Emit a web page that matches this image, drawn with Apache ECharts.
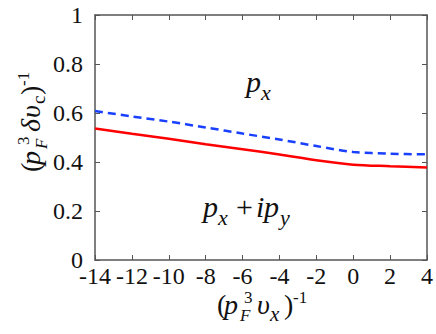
<!DOCTYPE html>
<html>
<head>
<meta charset="utf-8">
<script src="https://cdn.jsdelivr.net/npm/echarts@6/dist/echarts.min.js"></script>
<style>
  html, body { margin: 0; padding: 0; background: #fff; }
  #chart { width: 436px; height: 334px; }
</style>
</head>
<body>
<div id="chart"></div>
<script>
const xVals = [-14, -12, -10, -8, -6, -4, -2, 0, 2, 4];
const pxPy = [0.537, 0.515, 0.495, 0.472, 0.452, 0.431, 0.407, 0.389, 0.383, 0.378];
const px = [0.608, 0.586, 0.565, 0.541, 0.516, 0.492, 0.465, 0.441, 0.434, 0.431];
const yTicks = [0, 0.2, 0.4, 0.6, 0.8, 1];

const serif = 'Liberation Serif';
const axisColor = '#555';

function txt(t, x, y, size, italic) {
  return {
    type: 'text', x: x, y: y,
    style: {
      text: t, fill: '#111',
      fontFamily: serif, fontSize: size, fontStyle: italic ? 'italic' : 'normal',
      verticalAlign: 'bottom', align: 'left'
    }
  };
}

const hiddenAxis = {
  axisLine: { show: true, onZero: false, lineStyle: { color: axisColor, width: 1.5 } },
  axisTick: { show: true, inside: true, length: 5, lineStyle: { color: axisColor } },
  axisLabel: { show: false },
  splitLine: { show: false }
};

const option = {
  animation: false,
  textStyle: { fontFamily: serif },
  grid: { left: 95, right: 5, top: 15, bottom: 74 },
  xAxis: [{
    type: 'value', min: -14, max: 4, interval: 2,
    axisLine: { onZero: false, lineStyle: { color: axisColor, width: 1.5 } },
    axisTick: { inside: true, length: 5, lineStyle: { color: axisColor } },
    axisLabel: { color: '#111', fontFamily: serif, fontSize: 24, margin: 4 },
    splitLine: { show: false }
  }, Object.assign({ type: 'value', min: -14, max: 4, interval: 2, position: 'top' }, hiddenAxis)],
  yAxis: [{
    type: 'value', min: 0, max: 1, interval: 0.2,
    axisLine: { show: true, onZero: false, lineStyle: { color: axisColor, width: 1.5 } },
    axisTick: { show: true, inside: true, length: 5, lineStyle: { color: axisColor } },
    axisLabel: {
      color: '#111', fontFamily: serif, fontSize: 24, margin: 12,
      formatter: v => yTicks.includes(Math.round(v * 10) / 10) ? String(Math.round(v * 10) / 10) : ''
    },
    splitLine: { show: false }
  }, Object.assign({ type: 'value', min: 0, max: 1, interval: 0.2, position: 'right' }, hiddenAxis)],
  series: [{
    type: 'line', data: xVals.map((x, i) => [x, pxPy[i]]),
    showSymbol: false, smooth: 0.3,
    lineStyle: { color: '#ff0000', width: 2.5 }
  }, {
    type: 'line', data: xVals.map((x, i) => [x, px[i]]),
    showSymbol: false, smooth: 0.3,
    lineStyle: { color: '#1a40ff', width: 2.5, type: [8, 5] }
  }],
  graphic: [
    {
      type: 'group', x: 246, y: 96,
      children: [txt('p', 0, 0, 30, true), txt('x', 15, 7, 22, true)]
    },
    {
      type: 'group', x: 203, y: 221,
      children: [
        txt('p', 0, 0, 30, true), txt('x', 15, 7, 22, true),
        txt('+', 33, 0, 30, false), txt('i', 53, 0, 30, true),
        txt('p', 61, 0, 30, true), txt('y', 77, 7, 22, true)
      ]
    },
    {
      type: 'group', x: 217, y: 318,
      children: [
        txt('(', 0, 0, 28, false), txt('p', 7, 0, 28, true),
        txt('3', 27, -12, 17, false), txt('F', 23, 6, 17, true),
        txt('υ', 40, 0, 28, true), txt('x', 53, 6, 21, true),
        txt(')', 67, 0, 28, false), txt('-1', 76, -12, 17, false)
      ]
    },
    {
      type: 'group', x: 44, y: 172, rotation: Math.PI / 2,
      children: [
        txt('(', 0, 0, 28, false), txt('p', 7, 0, 28, true),
        txt('3', 27, -12, 17, false), txt('F', 23, 6, 17, true),
        txt('δ', 40, 0, 28, true), txt('υ', 54, 0, 28, true),
        txt('c', 68, 4, 19, false),
        txt(')', 77, 0, 28, false), txt('-1', 86, -12, 17, false)
      ]
    }
  ]
};

// SVG renderer: text is drawn by the browser with normal CSS font matching
const chart = echarts.init(document.getElementById('chart'), null, { renderer: 'svg' });
chart.setOption(option);
</script>
</body>
</html>
